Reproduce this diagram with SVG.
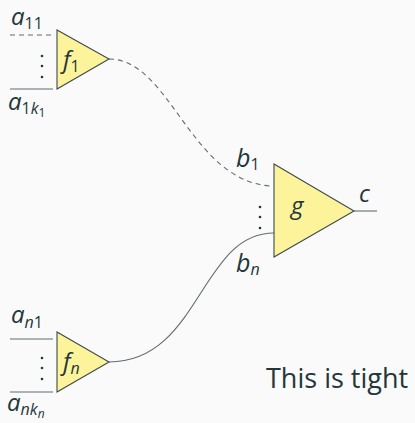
<svg xmlns="http://www.w3.org/2000/svg" width="415" height="423" viewBox="0 0 415 423">
<style>
.bg{fill:#fafafa}
.tri{fill:#fdf39a;stroke:#3b4a4e;stroke-width:1.1;stroke-linejoin:miter}
.w{fill:none;stroke:#5f6d70;stroke-width:1.1}
.d{stroke-dasharray:5,4}
.t{font-family:"Open Sans","DejaVu Sans",sans-serif;fill:#23373b}
.m{font-style:italic;font-size:24px}
.big{font-size:25px}
.s{font-style:normal;font-size:16px}
.si{font-style:italic;font-size:16px}
.ss{font-style:italic;font-size:12px}
.sn{font-style:normal;font-size:12px}
.dot{fill:#23373b}
</style>
<rect class="bg" width="415" height="423"/>
<g id="connectors">
<line class="w d" x1="10" y1="35" x2="53" y2="35"/>
<line class="w" x1="10" y1="89" x2="53" y2="89"/>
<line class="w" x1="10" y1="339" x2="53" y2="339"/>
<line class="w" x1="10" y1="392" x2="53" y2="392"/>
<path class="w d" d="M109,59 C170,59 190,180 270,186"/>
<path class="w" d="M109,362 C200,362 200,233 274,233"/>
<line class="w" x1="354" y1="211" x2="377" y2="211"/>
</g>
<g id="f1">
<polygon class="tri" points="57,30 57,89 109,59"/>
<text class="t m" x="63" y="68" font-size="26">f<tspan class="s" dy="4">1</tspan></text>
<text class="t m" x="11" y="25" font-size="22">a<tspan class="s" dy="4">11</tspan></text>
<text class="t m" x="8" y="110">a<tspan class="s" dy="4">1</tspan><tspan class="si">k</tspan><tspan class="sn" dy="3">1</tspan></text>
<circle class="dot" cx="42" cy="56" r="1.3"/><circle class="dot" cx="42" cy="66" r="1.3"/><circle class="dot" cx="42" cy="77" r="1.3"/>
</g>
<g id="fn">
<polygon class="tri" points="57,332 57,392 109,362"/>
<text class="t m" x="63" y="370" font-size="26">f<tspan class="si" dy="4">n</tspan></text>
<text class="t m" x="11" y="323">a<tspan class="si" dy="5">n</tspan><tspan class="s">1</tspan></text>
<text class="t m" x="7" y="411">a<tspan class="si" dy="4">nk</tspan><tspan class="ss" dy="3">n</tspan></text>
<circle class="dot" cx="42" cy="358" r="1.3"/><circle class="dot" cx="42" cy="368" r="1.3"/><circle class="dot" cx="42" cy="379" r="1.3"/>
</g>
<g id="g">
<polygon class="tri" points="274,164 274,257 354,211"/>
<text class="t m" x="291" y="214" font-size="27">g</text>
<text class="t m" x="359" y="202">c</text>
<text class="t m big" x="236" y="167">b<tspan class="s" dy="3">1</tspan></text>
<text class="t m big" x="236" y="272">b<tspan class="si" dy="3">n</tspan></text>
<circle class="dot" cx="260" cy="207" r="1.3"/><circle class="dot" cx="260" cy="217" r="1.3"/><circle class="dot" cx="260" cy="228" r="1.3"/>
</g>
<text class="t" x="266" y="388" font-size="27">This is tight</text>
</svg>
